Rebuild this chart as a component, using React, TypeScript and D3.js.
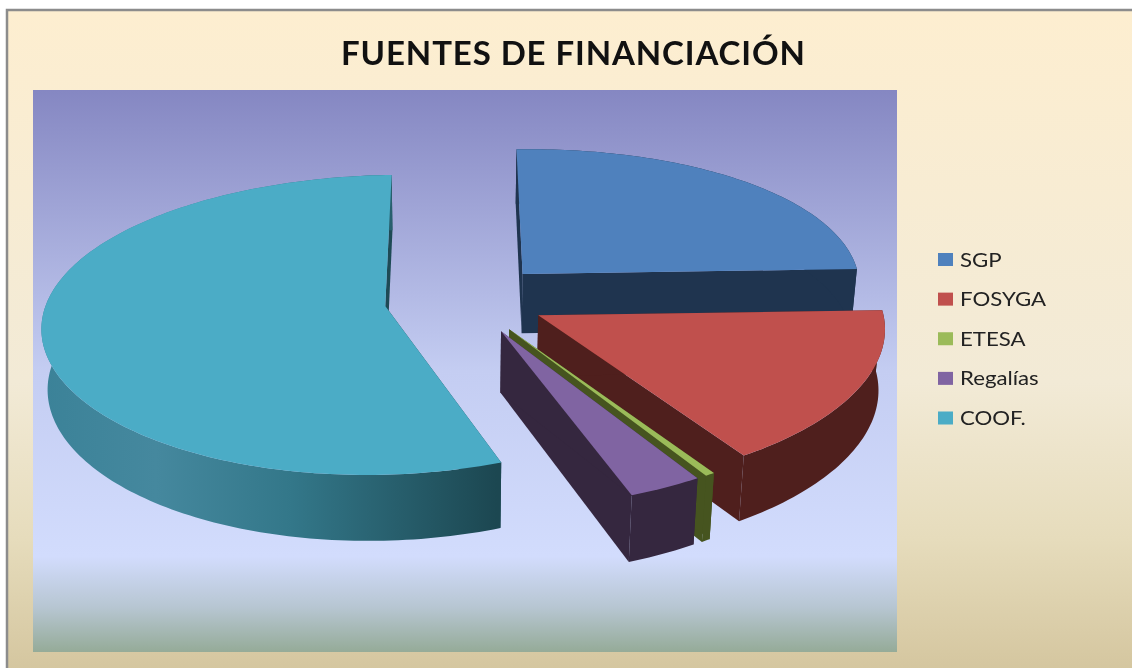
import React from "react";
import * as d3 from "d3";

const title = "FUENTES DE FINANCIACIÓN";
const categories = ["SGP", "FOSYGA", "ETESA", "Regalías", "COOF."];
const values = [25, 16.2, 0.4, 3.1, 55.3];
const topColors = ["#4f81bd", "#c0504d", "#9bbb59", "#8064a2", "#4bacc6"];
const sideColors = ["#1f344f", "#4f1f1d", "#46541f", "#35273f", "#1e4a55"];
const paintOrder = [0, 4, 1, 2, 3];

const W = 1132, H = 668;
const explode = 0.24;
const cx = 466, cy = 299, A = 340, B = 146, depth = 61;
const vx = 455, kx = 0.1, ky = 0.125, m = 0.015, tilt = 5;

const project = (X: number, Y: number, Z: number): [number, number] => {
  const sx = 1 / (1 + kx * Y + m * -Z);
  const sy = 1 / (1 + ky * Y + m * -Z);
  return [vx + (cx - vx + A * X) * sx, cy + (-B * Y + depth * -Z - tilt * X) * sy];
};

const pieLayout = d3.pie<number>().sort(null).startAngle(0).endAngle(2 * Math.PI);
const line = d3.line();

function slicePaths(a0: number, a1: number) {
  const mid = (a0 + a1) / 2;
  const ox = explode * Math.sin(mid), oy = explode * Math.cos(mid);
  const n = Math.max(4, Math.ceil((a1 - a0) / 0.02));
  const angles = d3.range(n + 1).map((i) => a0 + ((a1 - a0) * i) / n);
  const rim = (z: number) => angles.map((t) => project(ox + Math.sin(t), oy + Math.cos(t), z));
  const apex = (z: number) => project(ox, oy, z);
  const top = rim(0), bottom = rim(-1);
  return {
    top: line([apex(0), ...top])! + "Z",
    rim: line([...top, ...bottom.slice().reverse()])! + "Z",
    startFace: line([apex(0), top[0], bottom[0], apex(-1)])! + "Z",
    endFace: line([apex(0), top[n], bottom[n], apex(-1)])! + "Z",
  };
}

const legendY = d3.scalePoint<string>().domain(categories).range([259.5, 418]);

export default function App() {
  const arcs = pieLayout(values);
  return (
    <svg width={W} height={H} viewBox={`0 0 ${W} ${H}`} style={{ position: "absolute", left: 0, top: 0, filter: "blur(0.5px)" }}>
      <defs>
        <linearGradient id="page" x1="0" y1="0" x2="0" y2="1">
          <stop offset="0" stopColor="#fdeed0" />
          <stop offset="0.55" stopColor="#f2ead6" />
          <stop offset="0.78" stopColor="#e6dcbc" />
          <stop offset="1" stopColor="#d2c39b" />
        </linearGradient>
        <linearGradient id="plot" x1="0" y1="0" x2="0" y2="1">
          <stop offset="0" stopColor="#8587c2" />
          <stop offset="0.5" stopColor="#c4cdf2" />
          <stop offset="0.83" stopColor="#d2dcfd" />
          <stop offset="0.92" stopColor="#b7c6d2" />
          <stop offset="1" stopColor="#95ab98" />
        </linearGradient>
        <linearGradient id="coofRim" gradientUnits="userSpaceOnUse" x1="42" y1="0" x2="497" y2="0">
          <stop offset="0" stopColor="#3b8298" />
          <stop offset="0.25" stopColor="#45889e" />
          <stop offset="0.55" stopColor="#337789" />
          <stop offset="1" stopColor="#1c4751" />
        </linearGradient>
      </defs>
      <rect x={0} y={0} width={W} height={H} fill="#fff" />
      <rect x={7} y={10} width={W + 10} height={H + 10} fill="url(#page)" stroke="#8c8c8c" strokeWidth={2.5} />
      <rect x={33} y={90} width={864} height={562} fill="url(#plot)" />
      <text x={573} y={65} textAnchor="middle" fontFamily="Lato, 'Open Sans', sans-serif" fontWeight={700} fontSize={33} fill="#111" textLength={464} lengthAdjust="spacing">
        {title}
      </text>
      {paintOrder.map((i) => {
        const p = slicePaths(arcs[i].startAngle, arcs[i].endAngle);
        const side = sideColors[i];
        return (
          <g key={categories[i]}>
            <path d={p.endFace} fill={side} />
            <path d={p.startFace} fill={side} />
            <path d={p.rim} fill={i === 4 ? "url(#coofRim)" : side} />
            <path d={p.top} fill={topColors[i]} />
          </g>
        );
      })}
      {categories.map((c, i) => (
        <g key={c}>
          <rect x={938} y={legendY(c)! - 6.5} width={15} height={13} fill={topColors[i]} />
          <text transform={`translate(960,${legendY(c)! + 7}) scale(1.14,1)`} fontFamily="Lato, 'Open Sans', sans-serif" fontSize={19.5} fill="#222">
            {c}
          </text>
        </g>
      ))}
    </svg>
  );
}
